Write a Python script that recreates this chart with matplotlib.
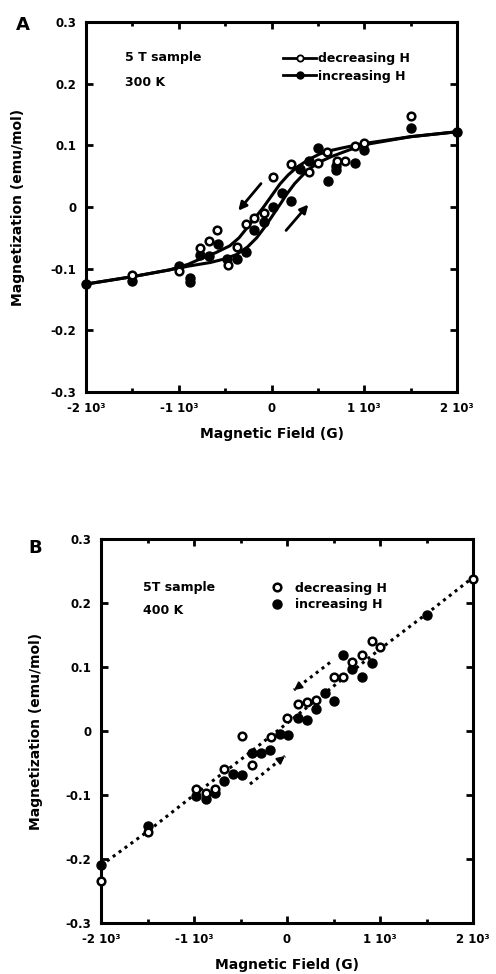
import matplotlib
matplotlib.use("Agg")
import matplotlib.pyplot as plt
from matplotlib.lines import Line2D

plt.rcParams['font.family'] = ['DejaVu Sans']
plt.rcParams['font.weight'] = 'bold'

# ---------------- Panel A data (300 K) ----------------
A_dec_x = [-1500, -1000, -770, -675, -585, -470, -375, -278, -185, -80, 20, 210, 408, 500, 600, 703, 795, 900, 1000, 1500]
A_dec_y = [-0.110, -0.104, -0.066, -0.055, -0.038, -0.094, -0.065, -0.027, -0.018, -0.010, 0.048, 0.070, 0.057, 0.072, 0.090, 0.074, 0.074, 0.099, 0.103, 0.147]

A_inc_x = [-2000, -1500, -1000, -880, -880, -775, -675, -580, -480, -375, -270, -185, -80, 20, 115, 210, 305, 400, 500, 605, 700, 700, 900, 1000, 1500, 2000]
A_inc_y = [-0.125, -0.120, -0.095, -0.115, -0.122, -0.078, -0.080, -0.060, -0.085, -0.085, -0.073, -0.037, -0.024, 0.000, 0.023, 0.010, 0.061, 0.074, 0.096, 0.042, 0.066, 0.060, 0.072, 0.092, 0.128, 0.122]

A_dec_curve_x = [-2000, -1500, -1100, -900, -735, -600, -450, -350, -270, -180, -90, 0, 90, 180, 270, 400, 520, 650, 770, 900, 1000, 1500, 2000]
A_dec_curve_y = [-0.125, -0.113, -0.102, -0.093, -0.082, -0.074, -0.063, -0.050, -0.035, -0.018, -0.001, 0.018, 0.037, 0.052, 0.064, 0.077, 0.086, 0.092, 0.096, 0.100, 0.103, 0.114, 0.122]

A_inc_curve_x = [-2000, -1500, -1100, -900, -660, -500, -376, -260, -160, -70, 20, 100, 165, 250, 345, 430, 520, 650, 775, 900, 1000, 1500, 2000]
A_inc_curve_y = [-0.125, -0.113, -0.102, -0.096, -0.090, -0.084, -0.077, -0.065, -0.050, -0.032, -0.012, 0.006, 0.021, 0.038, 0.053, 0.064, 0.073, 0.082, 0.089, 0.096, 0.101, 0.114, 0.122]

A_arrow_dec = [(-113, 0.038), (-358, -0.006)]
A_arrow_inc = [(157, -0.038), (397, 0.004)]

# ---------------- Panel B data (400 K) ----------------
B_dec_x = [-2000, -1500, -980, -870, -770, -675, -480, -375, -170, 5, 115, 210, 310, 505, 605, 700, 810, 910, 1000, 2000]
B_dec_y = [-0.235, -0.158, -0.090, -0.097, -0.091, -0.059, -0.008, -0.053, -0.010, 0.021, 0.042, 0.046, 0.049, 0.084, 0.084, 0.108, 0.118, 0.141, 0.132, 0.238]

B_inc_x = [-2000, -1500, -980, -870, -770, -675, -580, -480, -375, -280, -180, -80, 15, 115, 210, 310, 410, 510, 605, 700, 810, 910, 1500]
B_inc_y = [-0.210, -0.148, -0.102, -0.106, -0.097, -0.078, -0.067, -0.068, -0.034, -0.034, -0.030, -0.004, -0.007, 0.021, 0.017, 0.034, 0.060, 0.047, 0.119, 0.097, 0.085, 0.107, 0.181]

B_fit_x = [-2000, -1500, -1000, -500, 0, 500, 1000, 1500, 2000]
B_fit_y = [-0.210, -0.157, -0.100, -0.045, 0.012, 0.070, 0.128, 0.183, 0.240]

B_arrow_dec = [(462, 0.107), (75, 0.064)]
B_arrow_inc = [(-398, -0.083), (-22, -0.039)]

x_ticks = [-2000, -1000, 0, 1000, 2000]
x_ticklabels = ['-2 10\u00b3', '-1 10\u00b3', '0', '1 10\u00b3', '2 10\u00b3']
y_ticks = [-0.3, -0.2, -0.1, 0, 0.1, 0.2, 0.3]
y_ticklabels = ['-0.3', '-0.2', '-0.1', '0', '0.1', '0.2', '0.3']

W, H = 496, 974
fig = plt.figure(figsize=(W / 100, H / 100), dpi=100)


def fx(px):
    return px / W


def fy(py):
    return 1 - py / H


def style_axes(ax):
    ax.set_xlim(-2000, 2000)
    ax.set_ylim(-0.3, 0.3)
    ax.set_xticks(x_ticks)
    ax.set_xticklabels(x_ticklabels)
    ax.set_xticks([-1500, -500, 500, 1500], minor=True)
    ax.set_yticks(y_ticks)
    ax.set_yticklabels(y_ticklabels)
    ax.tick_params(which='both', direction='in', top=True, right=True,
                   width=2, labelsize=8.5)
    ax.tick_params(which='major', length=5, pad=7)
    ax.tick_params(which='minor', length=3)
    for s in ax.spines.values():
        s.set_linewidth(2.2)
    for lab in ax.get_xticklabels() + ax.get_yticklabels():
        lab.set_fontweight('bold')
    ax.set_xlabel('Magnetic Field (G)', fontsize=10, fontweight='bold', labelpad=9)
    ax.set_ylabel('Magnetization (emu/mol)', fontsize=10, fontweight='bold')


# ---------------- Panel A ----------------
axA = fig.add_axes([fx(86), fy(392), fx(457) - fx(86), fy(22) - fy(392)])
style_axes(axA)
axA.yaxis.set_label_coords(-0.165, 0.5)
axA.plot(A_dec_curve_x, A_dec_curve_y, color='black', lw=2.2, zorder=2)
axA.plot(A_inc_curve_x, A_inc_curve_y, color='black', lw=2.2, zorder=2)
axA.plot(A_inc_x, A_inc_y, 'o', color='black', ms=6.5, zorder=3, clip_on=False)
axA.plot(A_dec_x, A_dec_y, 'o', mfc='white', mec='black', mew=1.8, ms=5.5, zorder=4, clip_on=False)
for (s, e) in [A_arrow_dec, A_arrow_inc]:
    axA.annotate('', xy=e, xytext=s,
                 arrowprops=dict(arrowstyle='-|>', color='black', lw=2,
                                 mutation_scale=12, shrinkA=0, shrinkB=0))

hA = [Line2D([], [], color='black', lw=2, marker='o', mfc='white', mec='black', mew=1.3, ms=4.5),
      Line2D([], [], color='black', lw=2, marker='o', mfc='black', mec='black', ms=5)]
legA = axA.legend(hA, ['decreasing H', 'increasing H'], loc='upper left',
                  bbox_to_anchor=(0.515, 0.935), frameon=False, handlelength=2.6,
                  handletextpad=0.15, labelspacing=0.35, borderpad=0,
                  prop={'size': 9, 'weight': 'bold'})
fig.text(fx(125), fy(57), '5 T sample', fontsize=9, fontweight='bold', va='center', ha='left')
fig.text(fx(125), fy(82), '300 K', fontsize=9, fontweight='bold', va='center', ha='left')
fig.text(fx(23), fy(25), 'A', fontsize=13, fontweight='bold', va='center', ha='center')

# ---------------- Panel B ----------------
axB = fig.add_axes([fx(101), fy(923), fx(473) - fx(101), fy(539) - fy(923)])
style_axes(axB)
axB.yaxis.set_label_coords(-0.155, 0.5)
axB.plot(B_fit_x, B_fit_y, color='black', lw=2.2, linestyle=(0, (1, 1.4)), zorder=2)
axB.plot(B_inc_x, B_inc_y, 'o', color='black', ms=6.5, zorder=3, clip_on=False)
axB.plot(B_dec_x, B_dec_y, 'o', mfc='white', mec='black', mew=1.8, ms=5.5, zorder=4, clip_on=False)
for (s, e) in [B_arrow_dec, B_arrow_inc]:
    axB.plot([s[0], e[0]], [s[1], e[1]], color='black', lw=2.2, linestyle=(0, (1, 1.4)))
    dx = (e[0] - s[0]) * 0.12
    dy = (e[1] - s[1]) * 0.12
    axB.annotate('', xy=e, xytext=(e[0] - dx, e[1] - dy),
                 arrowprops=dict(arrowstyle='-|>', color='black', lw=1.5,
                                 mutation_scale=11, shrinkA=0, shrinkB=0))

hB = [Line2D([], [], linestyle='none', marker='o', mfc='white', mec='black', mew=1.8, ms=5.5),
      Line2D([], [], linestyle='none', marker='o', mfc='black', mec='black', ms=6.5)]
legB = axB.legend(hB, ['decreasing H', 'increasing H'], loc='upper left',
                  bbox_to_anchor=(0.44, 0.905), frameon=False, handlelength=1.0,
                  handletextpad=0.9, labelspacing=0.3, borderpad=0,
                  prop={'size': 9, 'weight': 'bold'})
fig.text(fx(143), fy(587), '5T sample', fontsize=9, fontweight='bold', va='center', ha='left')
fig.text(fx(143), fy(610), '400 K', fontsize=9, fontweight='bold', va='center', ha='left')
fig.text(fx(35), fy(548), 'B', fontsize=13, fontweight='bold', va='center', ha='center')

fig.savefig('out.png', dpi=100)
